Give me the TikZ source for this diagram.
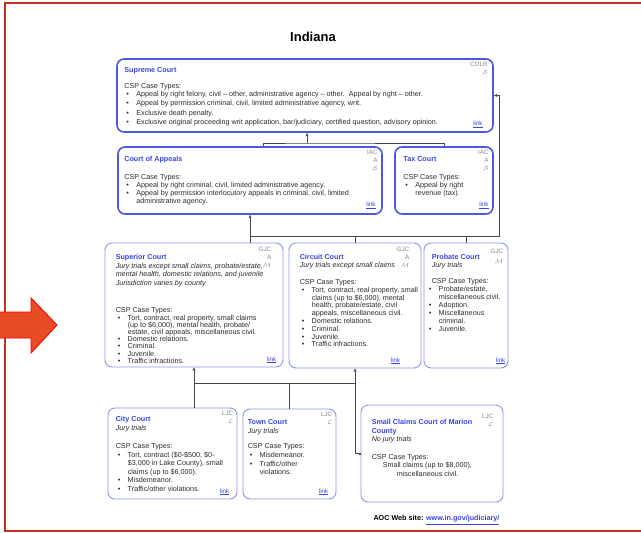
\documentclass[tikz,border=0pt]{standalone}
\usepackage{fontspec}
\setmainfont{Liberation Sans}
\usetikzlibrary{calc,arrows.meta}
\definecolor{framered}{RGB}{190,52,30}
\definecolor{arrowfill}{RGB}{232,76,36}
\definecolor{boxblue}{RGB}{78,88,222}
\definecolor{boxlight}{RGB}{140,150,234}
\definecolor{titleblue}{RGB}{58,68,226}
\definecolor{lvlgray}{RGB}{135,135,135}
\definecolor{txtgray}{RGB}{45,45,45}
\definecolor{linegray}{RGB}{70,70,70}

\newcommand{\bl}{\makebox[12pt][l]{\hspace{2pt}\textbullet}}
\newcommand{\ct}{\hspace*{12pt}}
\newcommand{\lnk}{\textcolor{titleblue}{\underline{link}}}
\newcommand{\ttl}[1]{\textcolor{titleblue}{\bfseries #1}}

\tikzset{
  court/.style={draw=boxlight,line width=0.9pt,rounded corners=7pt,inner sep=0pt},
  courttop/.style={court,draw=boxblue,line width=1.6pt},
  txt/.style={anchor=north west,align=left,inner sep=0pt,text=txtgray,font=\fontsize{7.2}{7.8}\selectfont},
  lvl/.style={anchor=north east,align=right,inner sep=0pt,text=lvlgray,font=\fontsize{6.3}{8}\selectfont},
  lnkpos/.style={anchor=south east,inner sep=0pt,font=\fontsize{6.2}{7}\selectfont},
  conn/.style={draw=linegray,line width=0.7pt},
  up/.style={conn,-{Stealth[length=3.6pt,width=3pt]}},
  upsq/.style={conn,{Square[length=2pt,width=2pt]}-{Stealth[length=3.6pt,width=3pt]}}
}

\begin{document}
\begin{tikzpicture}[x=1pt,y=-1pt]
\useasboundingbox (0,0) rectangle (641,533);
\fill[white] (0,0) rectangle (641,533);

% frame and pointer
\draw[framered,line width=1.3pt] (641,3) -- (5,3) -- (5,531) -- (641,531);
\draw[red,fill=arrowfill,line width=0.9pt] (-2,312) -- (31,312) -- (31,298) -- (57,325)
  -- (31,353) -- (31,338) -- (-2,338) -- cycle;

\node[font=\bfseries\fontsize{13}{15}\selectfont] (title) at (313,37) {Indiana};

% courts
\node[courttop,minimum width=376pt,minimum height=73pt] (sup) at (305,95.5) {};
\node[courttop,minimum width=264pt,minimum height=67pt] (coa) at (250,180.5) {};
\node[courttop,minimum width=98pt,minimum height=67pt] (tax) at (444,180.5) {};
\node[court,minimum width=178pt,minimum height=124pt] (supr) at (194,305) {};
\node[court,minimum width=132pt,minimum height=125pt] (circ) at (355,305.5) {};
\node[court,minimum width=84pt,minimum height=125pt] (prob) at (466,305.5) {};
\node[court,minimum width=129pt,minimum height=91pt] (city) at (172.5,453.5) {};
\node[court,minimum width=93pt,minimum height=90pt] (town) at (289.5,454) {};
\node[court,minimum width=142pt,minimum height=97pt] (scc) at (432,453.5) {};

% texts
\node[txt,font=\fontsize{7.2}{9.3}\selectfont] (suptxt) at ($(sup.north west)+(8,9)$) {%
  \ttl{Supreme Court}\\[6.7pt]
  CSP Case Types:\\[-1.3pt]
  \bl Appeal by right felony, civil -- other, administrative agency -- other.\ \ Appeal by right -- other.\\
  \bl Appeal by permission criminal, civil, limited administrative agency, writ.\\
  \bl Exclusive death penalty.\\
  \bl Exclusive original proceeding writ application, bar/judiciary, certified question, advisory opinion.};
\node[txt,font=\fontsize{7.2}{8}\selectfont] (coatxt) at ($(coa.north west)+(7,10)$) {%
  \ttl{Court of Appeals}\\[10pt]
  CSP Case Types:\\
  \bl Appeal by right criminal, civil, limited administrative agency.\\
  \bl Appeal by permission interlocutory appeals in criminal, civil, limited\\
  \ct administrative agency.};
\node[txt,font=\fontsize{7.2}{8}\selectfont] (taxtxt) at ($(tax.north west)+(9,10)$) {%
  \ttl{Tax Court}\\[10pt]
  CSP Case Types:\\
  \bl Appeal by right\\
  \ct revenue (tax).};
\node[txt,font=\fontsize{7.2}{8.5}\selectfont] (suprtxt) at ($(supr.north west)+(11,12)$) {%
  \ttl{Superior Court}\\
  \textit{Jury trials except small claims, probate/estate,}\\
  \textit{mental health, domestic relations, and juvenile}\\
  \textit{Jurisdiction varies by county}\\[19pt]
  CSP Case Types:\\[-1.3pt]
  \bl Tort, contract, real property, small claims\\[-1.3pt]
  \ct (up to \$6,000), mental health, probate/\\[-1.3pt]
  \ct estate, civil appeals, miscellaneous civil.\\[-1.3pt]
  \bl Domestic relations.\\[-1.3pt]
  \bl Criminal.\\[-1.3pt]
  \bl Juvenile.\\[-1.3pt]
  \bl Traffic infractions.};
\node[txt] (circtxt) at ($(circ.north west)+(11,12)$) {%
  \ttl{Circuit Court}\\
  \textit{Jury trials except small claims}\\[9pt]
  CSP Case Types:\\
  \bl Tort, contract, real property, small\\
  \ct claims (up to \$6,000), mental\\
  \ct health, probate/estate, civil\\
  \ct appeals, miscellaneous civil.\\
  \bl Domestic relations.\\
  \bl Criminal.\\
  \bl Juvenile.\\
  \bl Traffic infractions.};
\node[txt,font=\fontsize{7.2}{8}\selectfont] (probtxt) at ($(prob.north west)+(8,12)$) {%
  \ttl{Probate Court}\\
  \textit{Jury trials}\\[8pt]
  CSP Case Types:\\
  \hspace*{-5pt}\bl Probate/estate,\\
  \hspace*{7pt}miscellaneous civil.\\
  \hspace*{-5pt}\bl Adoption.\\
  \hspace*{-5pt}\bl Miscellaneous\\
  \hspace*{7pt}criminal.\\
  \hspace*{-5pt}\bl Juvenile.};
\node[txt,font=\fontsize{7.2}{8.6}\selectfont] (citytxt) at ($(city.north west)+(8,9)$) {%
  \ttl{City Court}\\
  \textit{Jury trials}\\[9.4pt]
  CSP Case Types:\\
  \bl Tort, contract (\$0-\$500, \$0-\\
  \ct \$3,000 in Lake County), small\\
  \ct claims (up to \$6,000).\\
  \bl Misdemeanor.\\
  \bl Traffic/other violations.};
\node[txt,font=\fontsize{7.2}{8.6}\selectfont] (towntxt) at ($(town.north west)+(5,11)$) {%
  \ttl{Town Court}\\
  \textit{Jury trials}\\[7pt]
  CSP Case Types:\\
  \bl Misdemeanor.\\
  \bl Traffic/other\\
  \ct violations.};
\node[txt,font=\fontsize{7.2}{8.5}\selectfont] (scctxt) at ($(scc.north west)+(11,15)$) {%
  \ttl{Small Claims Court of Marion}\\
  \ttl{County}\\
  \textit{No jury trials}\\[9pt]
  CSP Case Types:\\
  \hspace*{11pt}Small claims (up to \$8,000),\\
  \hspace*{25pt}miscellaneous civil.};

% levels
\node[lvl] (suplvl) at ($(sup.north east)+(-6,4)$) {COLR\\$\mathcal{S}$};
\node[lvl] (coalvl) at ($(coa.north east)+(-5,4)$) {IAC\\A\\$\mathcal{S}$};
\node[lvl] (taxlvl) at ($(tax.north east)+(-5,4)$) {IAC\\A\\$\mathcal{S}$};
\node[lvl] (suprlvl) at ($(supr.north east)+(-12,4)$) {GJC\\A\\$\mathcal{M}$};
\node[lvl] (circlvl) at ($(circ.north east)+(-12,4)$) {GJC\\A\\$\mathcal{M}$};
\node[lvl] (problvl) at ($(prob.north east)+(-5,6)$) {GJC\\[2pt]$\mathcal{M}$};
\node[lvl] (citylvl) at ($(city.north east)+(-4,3)$) {LJC\\$\mathcal{L}$};
\node[lvl] (townlvl) at ($(town.north east)+(-4,3)$) {LJC\\$\mathcal{L}$};
\node[lvl] (scclvl) at ($(scc.north east)+(-10,9)$) {LJC\\$\mathcal{L}$};

% links
\node[lnkpos] (suplnk) at ($(sup.south east)+(-11,-5)$) {\lnk};
\node[lnkpos] (coalnk) at ($(coa.south east)+(-7,-6)$) {\lnk};
\node[lnkpos] (taxlnk) at ($(tax.south east)+(-5,-6)$) {\lnk};
\node[lnkpos] (suprlnk) at ($(supr.south east)+(-7,-4)$) {\lnk};
\node[lnkpos] (circlnk) at ($(circ.south east)+(-21,-4)$) {\lnk};
\node[lnkpos] (problnk) at ($(prob.south east)+(-3,-4)$) {\lnk};
\node[lnkpos] (citylnk) at ($(city.south east)+(-8,-4)$) {\lnk};
\node[lnkpos] (townlnk) at ($(town.south east)+(-8,-4)$) {\lnk};

% connectors
\coordinate (ja) at (307,143);
\draw[up] (ja) -- (ja |- sup.south);
\draw[conn] ($(coa.north)+(13,0)$) |- (ja) -| (tax.north);

\coordinate (jb) at (250,236);
\coordinate (jc) at (499,236);
\draw[up] (jb) -- (coa.south);
\draw[conn] (jb) -- (jb |- supr.north);
\draw[conn] (circ.north) -- (circ.north |- jb);
\draw[conn] (prob.north) -- (prob.north |- jb);
\draw[up] (jb) -- (jc) |- (sup.east);

\coordinate (jd) at (194,383);
\draw[up] (jd) -- (supr.south);
\draw[conn] (jd) -- (jd |- city.north);
\draw[conn] (town.north) -- (town.north |- jd);
\draw[conn] (jd) -- (jd -| circ.south);
\draw[upsq] (scc.west) -| (circ.south);

\node[anchor=west,font=\bfseries\fontsize{7.2}{8}\selectfont] (aoc) at (370,520)
  {AOC Web site: \textcolor{titleblue}{\underline{www.in.gov/judiciary/}}};

\end{tikzpicture}
\end{document}
